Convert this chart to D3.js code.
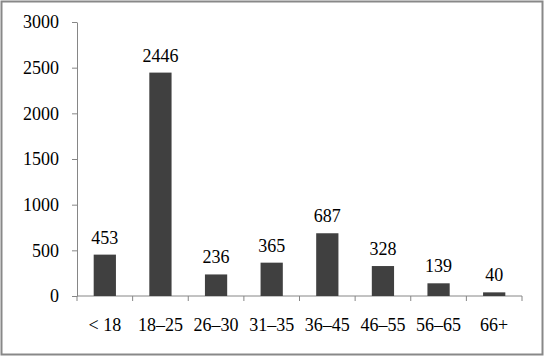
<!DOCTYPE html>
<html>
<head>
<meta charset="utf-8">
<script src="https://cdn.jsdelivr.net/npm/d3@7"></script>
<style>
  body { margin: 0; background: #fff; }
</style>
</head>
<body>
<svg id="chart" width="544" height="357"></svg>
<script>
// age groups and counts
var categories = ["< 18", "18–25", "26–30", "31–35", "36–45", "46–55", "56–65", "66+"];
var counts = [453, 2446, 236, 365, 687, 328, 139, 40];
var yTicks = [0, 500, 1000, 1500, 2000, 2500, 3000];

var width = 544, height = 357;
var margin = { top: 22, right: 22, bottom: 61, left: 77 };
var serif = "Liberation Serif";
var fontSize = 18;

var svg = d3.select("#chart");

// outer frame
svg.append("rect")
  .attr("x", 1.5).attr("y", 1.5)
  .attr("width", width - 3).attr("height", height - 4)
  .attr("fill", "#fff")
  .attr("stroke", "#888").attr("stroke-width", 2);

var x = d3.scaleBand()
  .domain(categories)
  .range([margin.left, width - margin.right])
  .paddingInner(0.6).paddingOuter(0.3);

var y = d3.scaleLinear()
  .domain([0, 3000])
  .range([height - margin.bottom, margin.top]);

// y axis
var yAxis = svg.append("g")
  .attr("transform", "translate(" + margin.left + ",0)")
  .call(d3.axisLeft(y).tickValues(yTicks).tickFormat(d3.format("d"))
    .tickSize(5).tickSizeOuter(0).tickPadding(13));
yAxis.attr("font-family", serif).attr("font-size", fontSize);
yAxis.select(".domain").attr("stroke", "#868686");
yAxis.selectAll(".tick line").attr("stroke", "#868686");
yAxis.selectAll("text").attr("fill", "#000");

// x axis: ticks at band boundaries
var xAxis = svg.append("g")
  .attr("transform", "translate(0," + y(0) + ")")
  .attr("font-family", serif).attr("font-size", fontSize);
xAxis.append("line")
  .attr("x1", margin.left).attr("x2", width - margin.right)
  .attr("stroke", "#868686");
var edges = d3.range(categories.length + 1).map(function(i) {
  return margin.left + i * (width - margin.left - margin.right) / categories.length;
});
xAxis.selectAll(".edge").data(edges).enter().append("line")
  .attr("x1", function(d) { return d; }).attr("x2", function(d) { return d; })
  .attr("y1", 0).attr("y2", 5)
  .attr("stroke", "#868686");
xAxis.selectAll(".lbl").data(categories).enter().append("text")
  .attr("x", function(d) { return x(d) + x.bandwidth() / 2; })
  .attr("y", 35)
  .attr("text-anchor", "middle")
  .text(function(d) { return d; });

// bars
svg.selectAll(".bar").data(counts).enter().append("rect")
  .attr("class", "bar")
  .attr("x", function(d, i) { return x(categories[i]); })
  .attr("y", function(d) { return y(d); })
  .attr("width", x.bandwidth())
  .attr("height", function(d) { return y(0) - y(d); })
  .attr("fill", "#404040");

// value labels
svg.append("g").attr("font-family", serif).attr("font-size", fontSize)
  .selectAll(".val").data(counts).enter().append("text")
  .attr("x", function(d, i) { return x(categories[i]) + x.bandwidth() / 2; })
  .attr("y", function(d) { return y(d) - 11; })
  .attr("text-anchor", "middle")
  .text(function(d) { return d; });
</script>
</body>
</html>
